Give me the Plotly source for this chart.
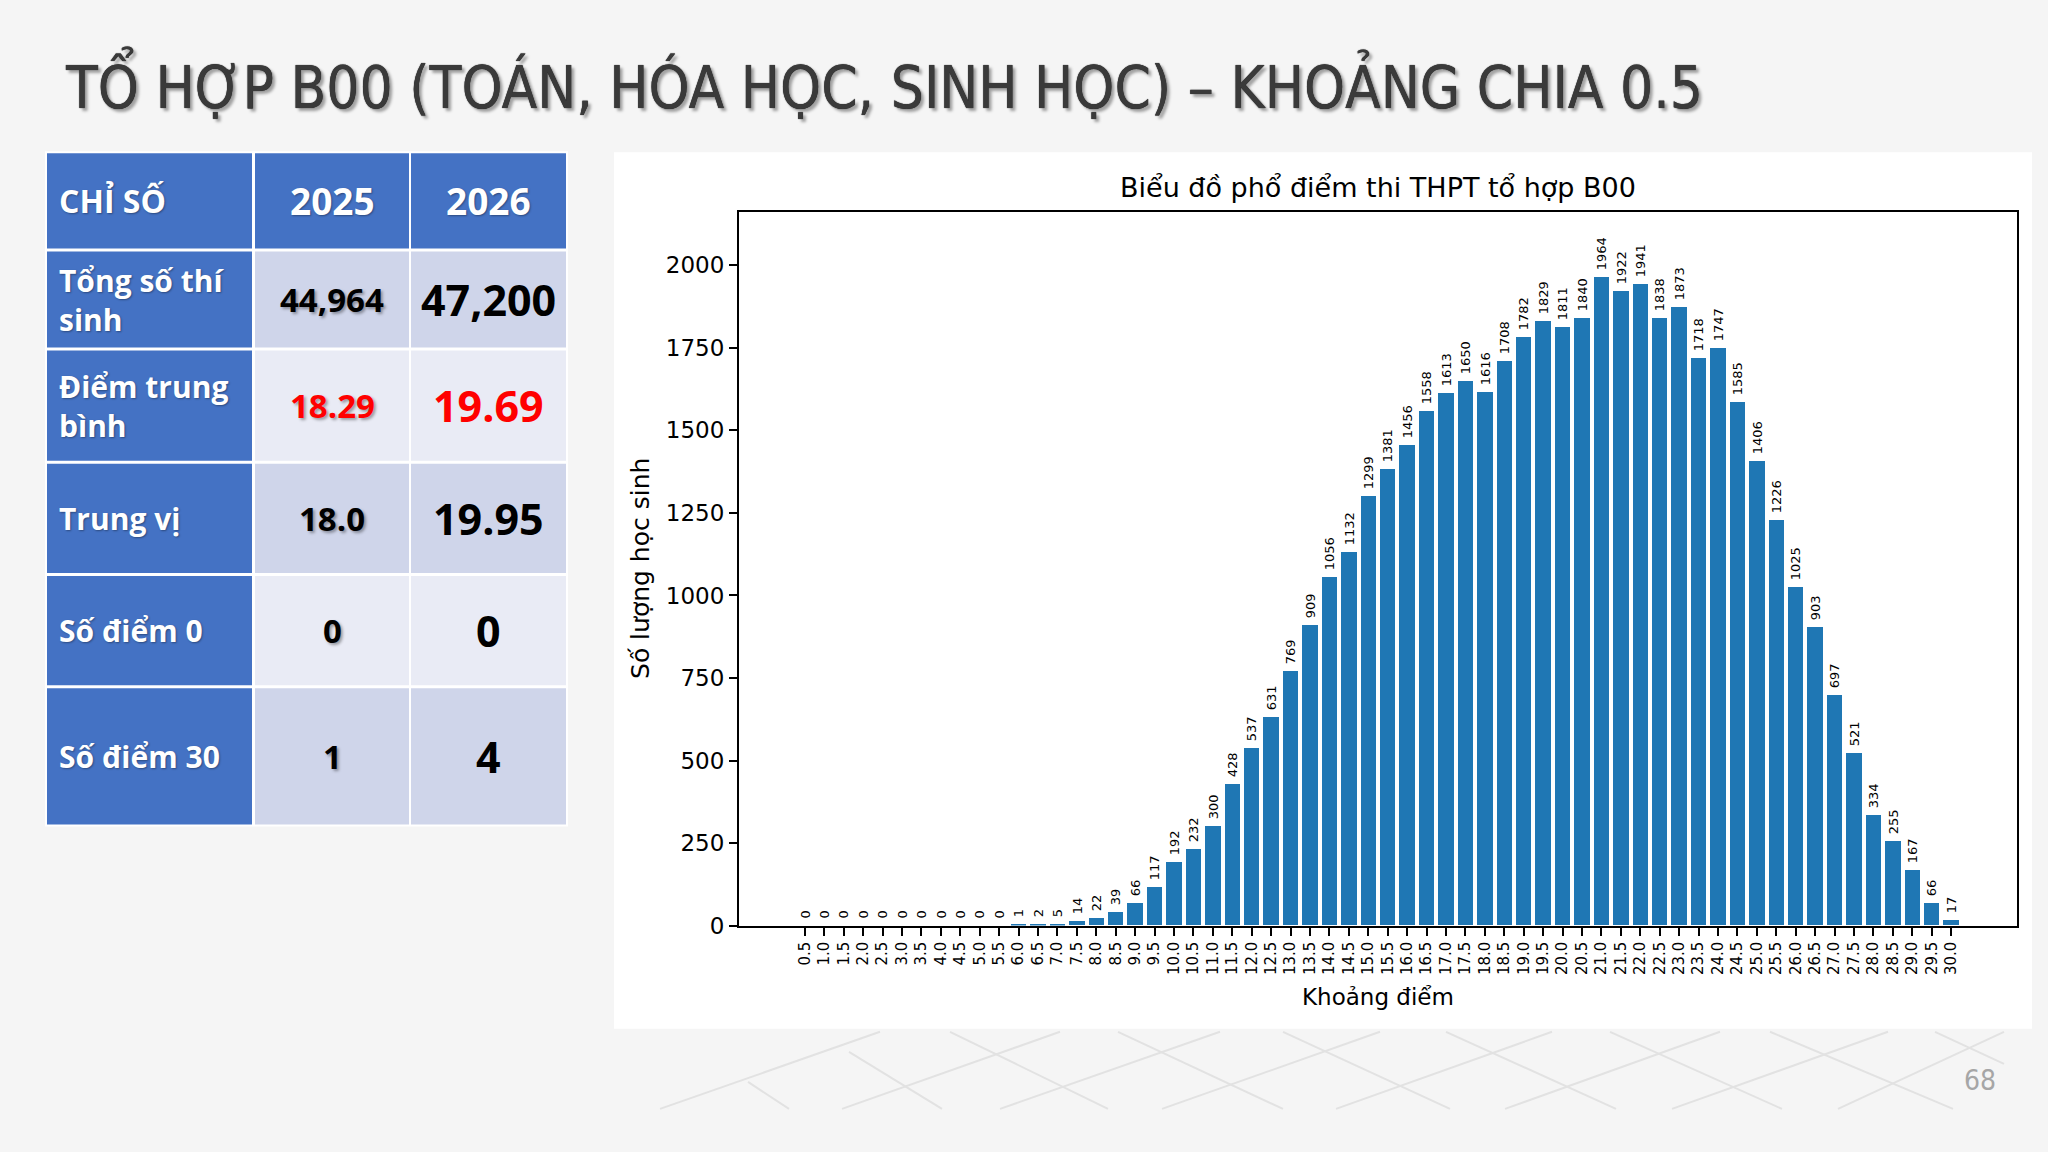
import plotly.graph_objects as go

# ---------------- data ----------------
categories = ["0.5", "1.0", "1.5", "2.0", "2.5", "3.0", "3.5", "4.0", "4.5", "5.0",
              "5.5", "6.0", "6.5", "7.0", "7.5", "8.0", "8.5", "9.0", "9.5", "10.0",
              "10.5", "11.0", "11.5", "12.0", "12.5", "13.0", "13.5", "14.0", "14.5", "15.0",
              "15.5", "16.0", "16.5", "17.0", "17.5", "18.0", "18.5", "19.0", "19.5", "20.0",
              "20.5", "21.0", "21.5", "22.0", "22.5", "23.0", "23.5", "24.0", "24.5", "25.0",
              "25.5", "26.0", "26.5", "27.0", "27.5", "28.0", "28.5", "29.0", "29.5", "30.0"]
counts = [0, 0, 0, 0, 0, 0, 0, 0, 0, 0,
          0, 1, 2, 5, 14, 22, 39, 66, 117, 192,
          232, 300, 428, 537, 631, 769, 909, 1056, 1132, 1299,
          1381, 1456, 1558, 1613, 1650, 1616, 1708, 1782, 1829, 1811,
          1840, 1964, 1922, 1941, 1838, 1873, 1718, 1747, 1585, 1406,
          1226, 1025, 903, 697, 521, 334, 255, 167, 66, 17]
y_ticks = [0, 250, 500, 750, 1000, 1250, 1500, 1750, 2000]

table_header = ["CHỈ SỐ", "2025", "2026"]
row_labels = ["Tổng số thí<br>sinh", "Điểm trung<br>bình", "Trung vị", "Số điểm 0", "Số điểm 30"]
values_2025 = ["44,964", "18.29", "18.0", "0", "1"]
values_2026 = ["47,200", "19.69", "19.95", "0", "4"]
red_rows = [1]

slide_title = "TỔ HỢP B00 (TOÁN, HÓA HỌC, SINH HỌC) – KHOẢNG CHIA 0.5"
chart_title = "Biểu đồ phổ điểm thi THPT tổ hợp B00"
x_title = "Khoảng điểm"
y_title = "Số lượng học sinh"
page_number = "68"

# ---------------- layout helpers ----------------
W, H = 2048, 1152
K = 0.987  # vertical calibration of the capture


def px(x):
    return x / W


def py(y):
    return 1 - (y / K) / H


BLUE = "#4472C4"
DARK_ROW = "#CFD5EA"
LIGHT_ROW = "#E9EBF5"
CHART_FONT = "DejaVu Sans"
TABLE_FONT = "Open Sans, Noto Sans, sans-serif"
NARROW_FONT = "DejaVu Sans Condensed, Liberation Sans Narrow, Liberation Sans, sans-serif"

fig = go.Figure()
fig.add_trace(go.Bar(
    x=categories, y=counts, width=0.8,
    marker=dict(color="#1f77b4", line=dict(width=0)),
    text=["\u00a0" + str(v) for v in counts], textposition="outside", textangle=-90,
    textfont=dict(family=CHART_FONT, size=13, color="black"),
    constraintext="none", cliponaxis=False, showlegend=False,
))

shapes = []
annotations = []

# white chart panel
shapes.append(dict(type="rect", xref="paper", yref="paper", layer="below",
                   x0=px(614), x1=px(2032), y0=py(1027), y1=py(152),
                   fillcolor="white", line=dict(width=0)))

# decorative lattice lines under the panel
lattice_up = [(660, 880), (842, 1060), (1000, 1220), (1162, 1380), (1336, 1552),
              (1505, 1720), (1672, 1888), (1838, 2004)]
for xb, xt in lattice_up:
    shapes.append(dict(type="line", xref="paper", yref="paper", layer="below",
                       x0=px(xb), y0=py(1107), x1=px(xt), y1=py(1030),
                       line=dict(color="#e2e2e2", width=2)))
lattice_down = [(789, 1107, 748, 1080), (942, 1107, 849, 1050), (1108, 1107, 950, 1030),
                (1283, 1107, 1118, 1030), (1450, 1107, 1283, 1030), (1616, 1107, 1446, 1030),
                (1782, 1107, 1610, 1030), (1953, 1107, 1770, 1030), (2004, 1062, 1935, 1030)]
for xb, yb, xt, yt in lattice_down:
    shapes.append(dict(type="line", xref="paper", yref="paper", layer="below",
                       x0=px(xb), y0=py(yb), x1=px(xt), y1=py(yt),
                       line=dict(color="#e2e2e2", width=2)))

# ---------------- table ----------------
col_bounds = [(47, 252), (255, 409), (411, 566)]
row_bounds = [(153, 248), (251, 347), (350, 460), (463, 572), (575, 684), (687, 823)]

shapes.append(dict(type="rect", xref="paper", yref="paper", layer="below",
                   x0=px(45), x1=px(568), y0=py(825), y1=py(151),
                   fillcolor="white", line=dict(width=0)))
for r, (y0, y1) in enumerate(row_bounds):
    for c, (x0, x1) in enumerate(col_bounds):
        if r == 0 or c == 0:
            color = BLUE
        else:
            color = DARK_ROW if r % 2 == 1 else LIGHT_ROW
        shapes.append(dict(type="rect", xref="paper", yref="paper", layer="below",
                           x0=px(x0), x1=px(x1), y0=py(y1), y1=py(y0),
                           fillcolor=color, line=dict(width=0)))

label_shadow = "1px 1px 2px rgba(0,0,0,0.35)"
# header
annotations.append(dict(text=table_header[0], x=px(57), y=py((row_bounds[0][0] + row_bounds[0][1]) / 2),
                        xref="paper", yref="paper", xanchor="left", yanchor="middle", showarrow=False,
                        font=dict(family=TABLE_FONT, size=32, color="white", weight=700, shadow=label_shadow)))
for c in (1, 2):
    cx = (col_bounds[c][0] + col_bounds[c][1]) / 2
    annotations.append(dict(text=table_header[c], x=px(cx), y=py((row_bounds[0][0] + row_bounds[0][1]) / 2),
                            xref="paper", yref="paper", xanchor="center", yanchor="middle", showarrow=False,
                            font=dict(family=TABLE_FONT, size=37, color="white", weight=700,
                                      shadow=label_shadow)))
# body
for i, label in enumerate(row_labels):
    y0, y1 = row_bounds[i + 1]
    cy = py((y0 + y1) / 2)
    annotations.append(dict(text=label, x=px(57), y=cy, xref="paper", yref="paper",
                            xanchor="left", yanchor="middle", align="left", showarrow=False,
                            font=dict(family=TABLE_FONT, size=30, color="white", weight=700,
                                      shadow=label_shadow)))
    vcolor = "#ff0000" if i in red_rows else "black"
    annotations.append(dict(text=values_2025[i], x=px((col_bounds[1][0] + col_bounds[1][1]) / 2), y=cy,
                            xref="paper", yref="paper", xanchor="center", yanchor="middle", showarrow=False,
                            font=dict(family=TABLE_FONT, size=33, color=vcolor, weight=700,
                                      shadow="2px 2px 3px rgba(0,0,0,0.35)")))
    annotations.append(dict(text=values_2026[i], x=px((col_bounds[2][0] + col_bounds[2][1]) / 2), y=cy,
                            xref="paper", yref="paper", xanchor="center", yanchor="middle", showarrow=False,
                            font=dict(family=TABLE_FONT, size=43, color=vcolor, weight=700)))

# slide title
annotations.append(dict(text=slide_title, x=px(884), y=py(84), xref="paper", yref="paper",
                        xanchor="center", yanchor="middle", showarrow=False,
                        font=dict(family=NARROW_FONT, size=58, color="#3a3a3a",
                                  shadow="0px 0px 1px #000, 3px 3px 3px rgba(0,0,0,0.35)")))
# chart texts
annotations.append(dict(text=chart_title, x=px(1378), y=py(187), xref="paper", yref="paper",
                        xanchor="center", yanchor="middle", showarrow=False,
                        font=dict(family=CHART_FONT, size=27, color="black")))
annotations.append(dict(text=x_title, x=px(1378), y=py(995), xref="paper", yref="paper",
                        xanchor="center", yanchor="middle", showarrow=False,
                        font=dict(family=CHART_FONT, size=23, color="black")))
annotations.append(dict(text=y_title, x=px(641), y=py(568), xref="paper", yref="paper",
                        xanchor="center", yanchor="middle", showarrow=False, textangle=-90,
                        font=dict(family=CHART_FONT, size=25, color="black")))
annotations.append(dict(text=page_number, x=px(1980), y=py(1079), xref="paper", yref="paper",
                        xanchor="center", yanchor="middle", showarrow=False,
                        font=dict(family=NARROW_FONT, size=28, color="#a6a6a6")))

axis_common = dict(showline=True, linecolor="black", linewidth=2, mirror=True,
                   ticks="outside", ticklen=8, tickwidth=2, tickcolor="black",
                   showgrid=False, zeroline=False)

fig.update_layout(
    width=W, height=H, margin=dict(l=0, r=0, t=0, b=0),
    paper_bgcolor="#f5f5f5", plot_bgcolor="white",
    shapes=shapes, annotations=annotations, bargap=0,
    xaxis=dict(type="category", domain=[px(739), px(2017)], range=[-3.39, 62.39],
               tickangle=-90, tickfont=dict(family=CHART_FONT, size=15, color="black"),
               **axis_common),
    yaxis=dict(domain=[py(924), py(212)], range=[0, 2160.4], tickvals=y_ticks,
               tickfont=dict(family=CHART_FONT, size=23, color="black"),
               **axis_common),
)

fig.write_html("out.html")
